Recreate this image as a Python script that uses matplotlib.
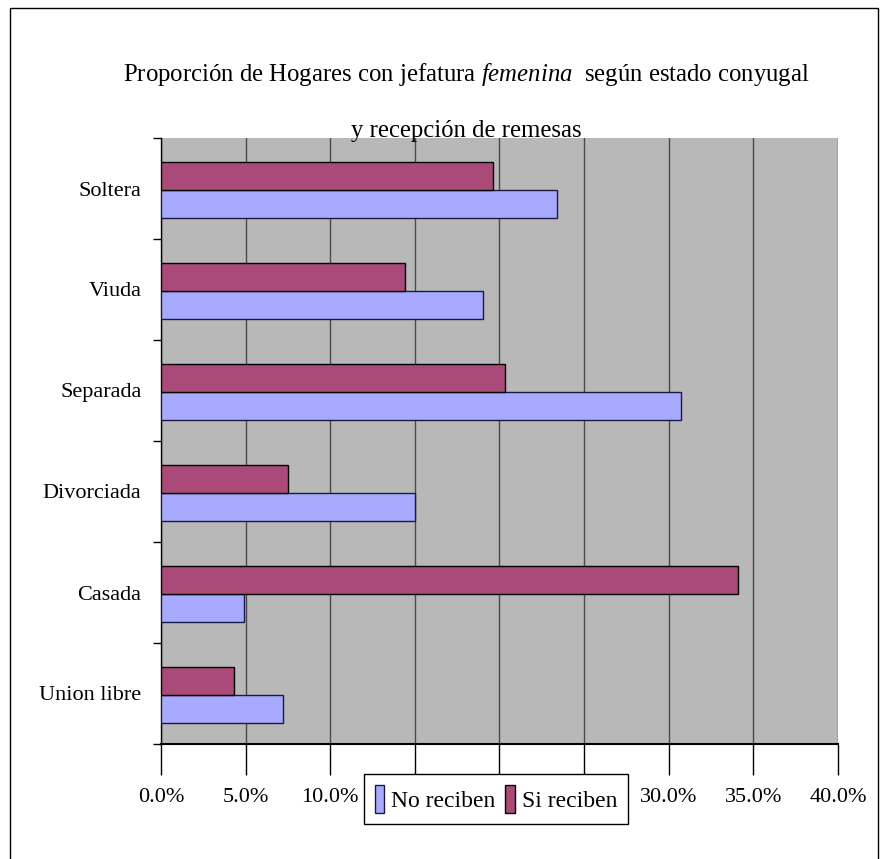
import matplotlib
matplotlib.use("Agg")
import matplotlib.pyplot as plt
from matplotlib.patches import Rectangle
from matplotlib.ticker import FixedLocator, PercentFormatter
import numpy as np

plt.rcParams['font.family'] = ['Liberation Serif', 'DejaVu Serif']
plt.rcParams['mathtext.fontset'] = 'custom'
plt.rcParams['mathtext.rm'] = 'Liberation Serif'
plt.rcParams['mathtext.it'] = 'Liberation Serif:italic'

# Data (percent), bottom to top as drawn
categories = ['Union libre', 'Casada', 'Divorciada', 'Separada', 'Viuda', 'Soltera']
no_reciben = [7.2, 4.9, 15.0, 30.7, 19.0, 23.4]
si_reciben = [4.3, 34.1, 7.5, 20.3, 14.4, 19.6]
x_ticks = [0, 5, 10, 15, 20, 25, 30, 35, 40]

col_no = '#A8AAFF'
col_si = '#A94A78'

fig = plt.figure(figsize=(8.86, 8.59), dpi=100)
ax = fig.add_axes([161 / 886, 1 - 744 / 859, (838 - 161) / 886, (744 - 138) / 859])
ax.set_facecolor('#B8B8B8')

y = np.arange(len(categories))
h = 0.28
ax.barh(y - h / 2 - 0.015, no_reciben, height=h, color=col_no, edgecolor='#1a1a40',
        linewidth=1, label='No reciben', zorder=3)
ax.barh(y + h / 2 - 0.015, si_reciben, height=h, color=col_si, edgecolor='black',
        linewidth=1, label='Si reciben', zorder=3)

ax.set_xlim(0, 40)
ax.set_ylim(-0.5, len(categories) - 0.5)
ax.xaxis.set_major_locator(FixedLocator(x_ticks))
ax.xaxis.set_major_formatter(PercentFormatter(decimals=1))
ax.grid(axis='x', color='#4a4a4a', linewidth=1, zorder=1)
ax.set_axisbelow(True)

ax.set_yticks(y)
ax.set_yticklabels(categories)
ax.yaxis.set_minor_locator(FixedLocator(np.arange(-0.5, len(categories), 1.0)))
ax.tick_params(axis='y', which='major', length=0, pad=14, labelsize=16)
ax.tick_params(axis='y', which='minor', length=6, width=1, direction='out')
ax.tick_params(axis='x', length=22, width=1, direction='out', pad=10, labelsize=16)

for s in ['top', 'right']:
    ax.spines[s].set_visible(False)
ax.spines['left'].set_linewidth(1)
ax.spines['bottom'].set_linewidth(1.5)

fig.text(0.526, 1 - 75 / 859,
         r'Proporción de Hogares con jefatura $\mathit{femenina}$  según estado conyugal',
         ha='center', va='center', fontsize=17.8, zorder=5)
fig.text(0.526, 1 - 131 / 859, 'y recepción de remesas',
         ha='center', va='center', fontsize=17.8, zorder=5)

handles, labels = ax.get_legend_handles_labels()
leg = fig.legend(handles, labels, loc='center', bbox_to_anchor=(496 / 886, 1 - 799 / 859),
                 ncol=2, fontsize=17, frameon=True, fancybox=False, edgecolor='black',
                 framealpha=1, handlelength=0.4, handleheight=1.5, handletextpad=0.3,
                 columnspacing=0.4, borderpad=0.45, borderaxespad=0)
leg.get_frame().set_linewidth(1)

fig.patches.append(Rectangle((10 / 886, -0.05), (878 - 10) / 886, 1.05 - 8 / 859,
                             transform=fig.transFigure, fill=False,
                             edgecolor='black', linewidth=1))

fig.savefig('out.png', dpi=100)
